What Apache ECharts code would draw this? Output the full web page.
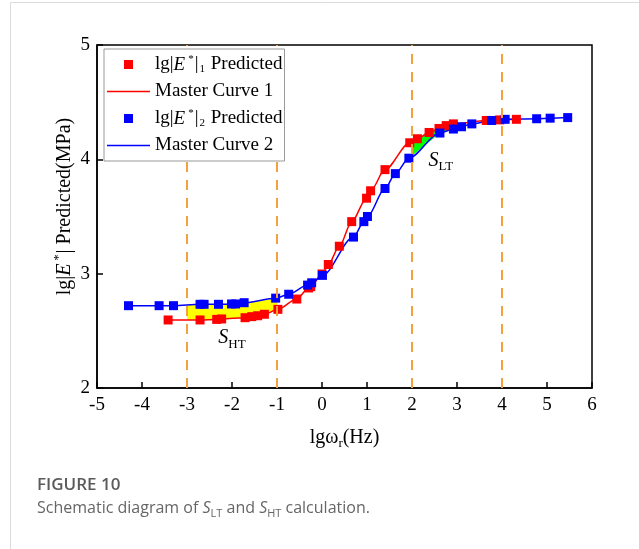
<!DOCTYPE html>
<html><head><meta charset="utf-8">
<script src="https://cdn.jsdelivr.net/npm/echarts@6/dist/echarts.min.js"></script>
<style>html,body{margin:0;padding:0;background:#fff}#c{width:639px;height:549px}</style>
</head><body><div id="c"></div>
<script>
// ---- data ----
const redX  = [-3.42,-2.71,-2.34,-2.23,-1.71,-1.56,-1.43,-1.28,-0.98,-0.56,-0.30,-0.25,0.00,0.14,0.385,0.66,0.99,1.08,1.40,1.95,2.12,2.38,2.60,2.76,2.92,3.65,3.95,4.32];
const redY  = [2.595,2.595,2.600,2.604,2.615,2.624,2.632,2.645,2.688,2.778,2.875,2.886,2.997,3.080,3.240,3.455,3.660,3.725,3.910,4.145,4.180,4.235,4.270,4.295,4.310,4.340,4.345,4.350];
const blueX = [-4.30,-3.62,-3.30,-2.71,-2.62,-2.30,-2.01,-1.92,-1.73,-1.03,-0.74,-0.32,-0.23,0.01,0.70,0.93,1.01,1.40,1.63,1.93,2.62,2.92,3.10,3.33,3.77,4.07,4.77,5.07,5.46];
const blueY = [2.720,2.720,2.720,2.732,2.732,2.732,2.735,2.735,2.746,2.786,2.820,2.900,2.920,2.985,3.320,3.455,3.500,3.745,3.875,4.010,4.230,4.265,4.285,4.310,4.340,4.350,4.355,4.360,4.365];
const dashX = [-3, -1, 2, 4];
const htRange = [-3, -1];
const ltRange = [2, 2.9];
const htLabelPos = [-2.0, 2.44];
const ltLabelPos = [2.64, 3.99];
const legendTexts = {
  E1: '{n|lg|}{i|E}{sup|*}{n||}{sub|1}{n| Predicted}',
  MC1: '{n|Master Curve 1}',
  E2: '{n|lg|}{i|E}{sup|*}{n||}{sub|2}{n| Predicted}',
  MC2: '{n|Master Curve 2}'
};

const SERIF = "'Liberation Serif','Times New Roman',serif";
const zip = (xs, ys) => xs.map((x, i) => [x, ys[i]]);
function interp(xs, ys, x) {
  for (let i = 0; i < xs.length - 1; i++) {
    if (x >= xs[i] && x <= xs[i + 1]) {
      const t = (x - xs[i]) / (xs[i + 1] - xs[i]);
      return ys[i] + t * (ys[i + 1] - ys[i]);
    }
  }
  return ys[ys.length - 1];
}
function clipPts(xs, ys, r) {
  const out = [[r[0], interp(xs, ys, r[0])]];
  xs.forEach((x, i) => { if (x > r[0] && x < r[1]) out.push([x, ys[i]]); });
  out.push([r[1], interp(xs, ys, r[1])]);
  return out;
}
function fillSeries(upX, upY, loX, loY, r, color) {
  return {
    type: 'custom', coordinateSystem: 'cartesian2d', silent: true, z: 1,
    data: [[r[0], interp(loX, loY, r[0])]], encode: { x: 0, y: 1 },
    renderItem: (params, api) => {
      const pts = clipPts(upX, upY, r).concat(clipPts(loX, loY, r).reverse()).map(p => api.coord(p));
      return { type: 'polygon', shape: { points: pts }, style: { fill: color } };
    }
  };
}
const subRich = {
  s: { fontFamily: SERIF, fontStyle: 'italic', fontSize: 20, color: '#000' },
  b: { fontFamily: SERIF, fontSize: 13, color: '#000', verticalAlign: 'bottom', lineHeight: 26 }
};
const FS = 19, LH = 21;
const richE = {
  n: { fontFamily: SERIF, fontSize: FS, color: '#000', lineHeight: LH },
  i: { fontFamily: SERIF, fontSize: FS, fontStyle: 'italic', color: '#000', lineHeight: LH },
  sup: { fontFamily: SERIF, fontSize: 11, color: '#000', verticalAlign: 'top', lineHeight: LH, padding: [0, 1, 0, 3] },
  sub: { fontFamily: SERIF, fontSize: 11, color: '#000', verticalAlign: 'bottom', lineHeight: LH, padding: [0, 1, 0, 1] }
};
const NFS = 20, NLH = 24;

const chart = echarts.init(document.getElementById('c'), null, { renderer: 'canvas' });
chart.setOption({
  animation: false,
  backgroundColor: '#fff',
  grid: { left: 97, top: 45, right: 47, bottom: 161, show: true, borderColor: '#000', borderWidth: 1.5 },
  xAxis: {
    type: 'value', min: -5, max: 6, interval: 1,
    name: '{n|lgω}{sub|r}{n|(Hz)}', nameLocation: 'middle', nameGap: 38, nameMoveOverlap: false,
    nameTextStyle: { rich: {
      n: { fontFamily: SERIF, fontSize: NFS, color: '#000', lineHeight: NLH },
      sub: { fontFamily: SERIF, fontSize: 13, color: '#000', verticalAlign: 'bottom', lineHeight: NLH } } },
    axisLine: { onZero: false, lineStyle: { color: '#000', width: 1.5 } },
    axisTick: { inside: true, length: 6, lineStyle: { color: '#000', width: 1.5 } },
    axisLabel: { fontFamily: SERIF, fontSize: 19, color: '#000', margin: 8 },
    splitLine: { show: false }
  },
  yAxis: {
    type: 'value', min: 2, max: 5, interval: 1,
    name: '{n|lg|}{i|E}{sup|*}{n|| Predicted(MPa)}', nameLocation: 'middle', nameGap: 20, nameRotate: 90,
    nameMoveOverlap: false,
    nameTextStyle: { padding: [0, 0, 0, 20], rich: {
      n: { fontFamily: SERIF, fontSize: NFS, color: '#000', lineHeight: NLH },
      i: { fontFamily: SERIF, fontSize: NFS, fontStyle: 'italic', color: '#000', lineHeight: NLH },
      sup: { fontFamily: SERIF, fontSize: 12, color: '#000', verticalAlign: 'top', lineHeight: NLH, padding: [0, 1, 0, 3] } } },
    axisLine: { show: true, onZero: false, lineStyle: { color: '#000', width: 1.5 } },
    axisTick: { show: true, inside: true, length: 6, lineStyle: { color: '#000', width: 1.5 } },
    axisLabel: { fontFamily: SERIF, fontSize: 19, color: '#000', margin: 7 },
    splitLine: { show: false }
  },
  legend: {
    left: 104, top: 49, orient: 'vertical', z: 20,
    data: [
      { name: 'E1', icon: 'path://M0,0h10v10H0z' },
      { name: 'MC1', icon: 'path://M0,0h43v1.5H0z' },
      { name: 'E2', icon: 'path://M0,0h10v10H0z' },
      { name: 'MC2', icon: 'path://M0,0h43v1.5H0z' }
    ],
    itemWidth: 43, itemHeight: 9, itemGap: 7, padding: [5, 2, 6, 3],
    borderColor: '#999', borderWidth: 1, backgroundColor: '#fff',
    formatter: n => legendTexts[n],
    textStyle: { fontFamily: SERIF, fontSize: FS, color: '#000', rich: richE }
  },
  graphic: [
    { type: 'line', shape: { x1: 10.5, y1: 2.5, x2: 639, y2: 2.5 }, style: { stroke: '#dcdcdc', lineWidth: 1 } },
    { type: 'line', shape: { x1: 10.5, y1: 2.5, x2: 10.5, y2: 549 }, style: { stroke: '#dcdcdc', lineWidth: 1 } },
    { type: 'text', left: 37, top: 477, style: { text: 'FIGURE 10', font: "600 17px 'Open Sans', sans-serif", fill: '#5b5b5b' } },
    { type: 'text', left: 37, top: 500, style: {
      text: '{t|Schematic diagram of }{i|S}{s|LT}{t| and }{i|S}{s|HT}{t| calculation.}',
      rich: {
        t: { font: "16px 'Open Sans', sans-serif", fill: '#666', lineHeight: 22 },
        i: { font: "italic 16px 'Open Sans', sans-serif", fill: '#666', lineHeight: 22 },
        s: { font: "11px 'Open Sans', sans-serif", fill: '#666', verticalAlign: 'bottom', lineHeight: 20 }
      } } }
  ],
  series: [
    fillSeries(blueX, blueY, redX, redY, htRange, '#ffff00'),
    fillSeries(redX, redY, blueX, blueY, ltRange, '#00ff00'),
    {
      name: 'MC1', type: 'line', data: zip(redX, redY), showSymbol: false, symbol: 'none',
      smooth: 0.3, smoothMonotone: 'x', lineStyle: { color: '#ff0000', width: 1.5 }, itemStyle: { color: '#ff0000' }, z: 3
    },
    {
      name: 'MC2', type: 'line', data: zip(blueX, blueY), showSymbol: false, symbol: 'none',
      smooth: 0.3, smoothMonotone: 'x', lineStyle: { color: '#0000ff', width: 1.5 }, itemStyle: { color: '#0000ff' }, z: 3
    },
    {
      name: 'E1', type: 'scatter', data: zip(redX, redY), symbol: 'rect', symbolSize: 9,
      itemStyle: { color: '#ff0000', opacity: 1 }, z: 4,
      markPoint: {
        symbol: 'rect', symbolSize: 1, itemStyle: { color: 'rgba(0,0,0,0)' }, silent: true,
        label: { show: true, position: 'inside', formatter: '{s|S}{b|HT}', rich: subRich },
        data: [{ coord: htLabelPos }]
      }
    },
    {
      name: 'E2', type: 'scatter', data: zip(blueX, blueY), symbol: 'rect', symbolSize: 9,
      itemStyle: { color: '#0000ff', opacity: 1 }, z: 4,
      markPoint: {
        symbol: 'rect', symbolSize: 1, itemStyle: { color: 'rgba(0,0,0,0)' }, silent: true,
        label: { show: true, position: 'inside', formatter: '{s|S}{b|LT}', rich: subRich },
        data: [{ coord: ltLabelPos }]
      },
      markLine: {
        silent: true, symbol: 'none', label: { show: false },
        lineStyle: { color: '#f5a03a', type: [10, 8], width: 2 },
        data: dashX.map(v => ({ xAxis: v }))
      }
    }
  ]
});
</script></body></html>
